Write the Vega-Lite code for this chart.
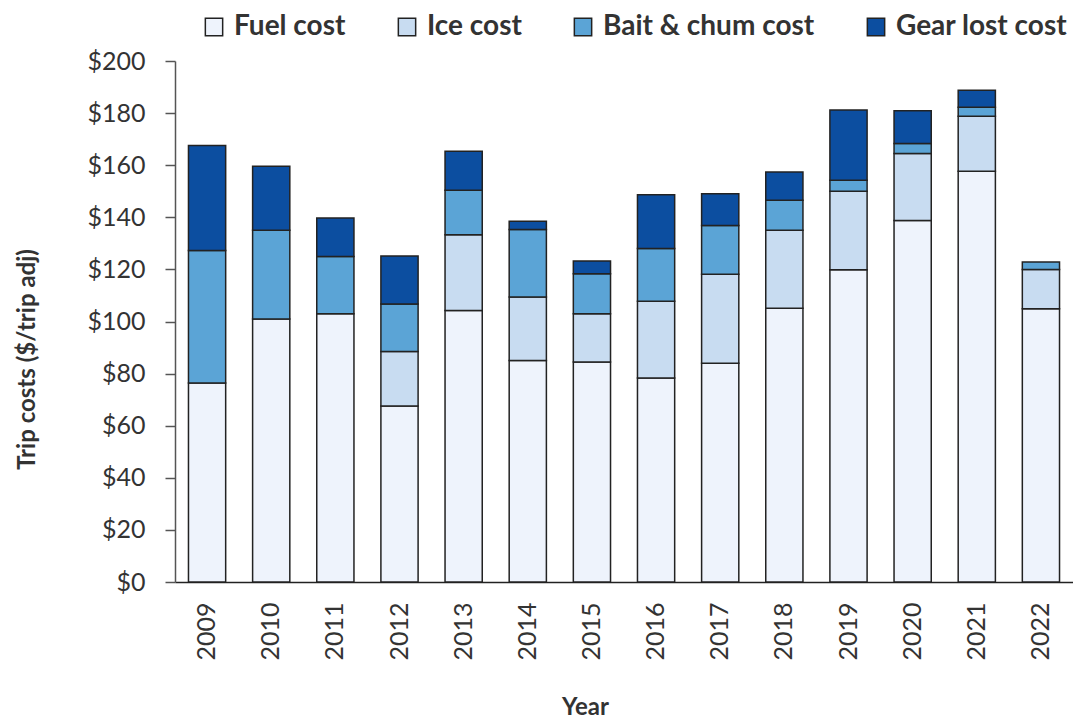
{
  "$schema": "https://vega.github.io/schema/vega-lite/v6.json",
  "width": 898,
  "height": 521,
  "autosize": {"type": "none"},
  "padding": {"left": 175, "top": 61, "right": 0, "bottom": 137},
  "background": "white",
  "config": {
    "view": {"stroke": null},
    "font": "Lato",
    "axis": {"labelFont": "Lato", "titleFont": "Lato", "labelColor": "#333333", "titleColor": "#333333"}
  },
  "datasets": {
    "costs": [
      {"Cost": "Fuel cost", "rank": 1},
      {"Cost": "Ice cost", "rank": 2},
      {"Cost": "Bait & chum cost", "rank": 3},
      {"Cost": "Gear lost cost", "rank": 4}
    ]
  },
  "data": {
    "values": [
      {"Year": "2009", "Cost": "Fuel cost", "Value": 76.4},
      {"Year": "2009", "Cost": "Bait & chum cost", "Value": 50.9},
      {"Year": "2009", "Cost": "Gear lost cost", "Value": 40.3},
      {"Year": "2010", "Cost": "Fuel cost", "Value": 101.0},
      {"Year": "2010", "Cost": "Bait & chum cost", "Value": 34.0},
      {"Year": "2010", "Cost": "Gear lost cost", "Value": 24.6},
      {"Year": "2011", "Cost": "Fuel cost", "Value": 103.0},
      {"Year": "2011", "Cost": "Bait & chum cost", "Value": 22.0},
      {"Year": "2011", "Cost": "Gear lost cost", "Value": 14.7},
      {"Year": "2012", "Cost": "Fuel cost", "Value": 67.6},
      {"Year": "2012", "Cost": "Ice cost", "Value": 20.9},
      {"Year": "2012", "Cost": "Bait & chum cost", "Value": 18.2},
      {"Year": "2012", "Cost": "Gear lost cost", "Value": 18.4},
      {"Year": "2013", "Cost": "Fuel cost", "Value": 104.2},
      {"Year": "2013", "Cost": "Ice cost", "Value": 29.1},
      {"Year": "2013", "Cost": "Bait & chum cost", "Value": 17.1},
      {"Year": "2013", "Cost": "Gear lost cost", "Value": 15.0},
      {"Year": "2014", "Cost": "Fuel cost", "Value": 85.0},
      {"Year": "2014", "Cost": "Ice cost", "Value": 24.4},
      {"Year": "2014", "Cost": "Bait & chum cost", "Value": 25.9},
      {"Year": "2014", "Cost": "Gear lost cost", "Value": 3.2},
      {"Year": "2015", "Cost": "Fuel cost", "Value": 84.5},
      {"Year": "2015", "Cost": "Ice cost", "Value": 18.5},
      {"Year": "2015", "Cost": "Bait & chum cost", "Value": 15.3},
      {"Year": "2015", "Cost": "Gear lost cost", "Value": 4.9},
      {"Year": "2016", "Cost": "Fuel cost", "Value": 78.3},
      {"Year": "2016", "Cost": "Ice cost", "Value": 29.5},
      {"Year": "2016", "Cost": "Bait & chum cost", "Value": 20.2},
      {"Year": "2016", "Cost": "Gear lost cost", "Value": 20.7},
      {"Year": "2017", "Cost": "Fuel cost", "Value": 84.0},
      {"Year": "2017", "Cost": "Ice cost", "Value": 34.1},
      {"Year": "2017", "Cost": "Bait & chum cost", "Value": 18.8},
      {"Year": "2017", "Cost": "Gear lost cost", "Value": 12.1},
      {"Year": "2018", "Cost": "Fuel cost", "Value": 105.1},
      {"Year": "2018", "Cost": "Ice cost", "Value": 29.9},
      {"Year": "2018", "Cost": "Bait & chum cost", "Value": 11.5},
      {"Year": "2018", "Cost": "Gear lost cost", "Value": 10.9},
      {"Year": "2019", "Cost": "Fuel cost", "Value": 119.9},
      {"Year": "2019", "Cost": "Ice cost", "Value": 30.1},
      {"Year": "2019", "Cost": "Bait & chum cost", "Value": 4.2},
      {"Year": "2019", "Cost": "Gear lost cost", "Value": 27.0},
      {"Year": "2020", "Cost": "Fuel cost", "Value": 138.8},
      {"Year": "2020", "Cost": "Ice cost", "Value": 25.7},
      {"Year": "2020", "Cost": "Bait & chum cost", "Value": 3.8},
      {"Year": "2020", "Cost": "Gear lost cost", "Value": 12.6},
      {"Year": "2021", "Cost": "Fuel cost", "Value": 157.7},
      {"Year": "2021", "Cost": "Ice cost", "Value": 21.1},
      {"Year": "2021", "Cost": "Bait & chum cost", "Value": 3.4},
      {"Year": "2021", "Cost": "Gear lost cost", "Value": 6.6},
      {"Year": "2022", "Cost": "Fuel cost", "Value": 104.9},
      {"Year": "2022", "Cost": "Ice cost", "Value": 15.1},
      {"Year": "2022", "Cost": "Bait & chum cost", "Value": 2.8}
    ]
  },
  "transform": [
    {"lookup": "Cost", "from": {"data": {"name": "costs"}, "key": "Cost", "fields": ["rank"]}}
  ],
  "mark": {"type": "bar", "stroke": "#222222", "strokeWidth": 1.5},
  "encoding": {
    "x": {
      "field": "Year",
      "type": "ordinal",
      "scale": {"paddingInner": 0.42, "paddingOuter": 0.21},
      "axis": {
        "title": "Year",
        "labelAngle": -90,
        "labelAlign": "right",
        "labelBaseline": "middle",
        "labelFontSize": 25,
        "labelPadding": 20,
        "ticks": false,
        "domainColor": "#222222",
        "domainWidth": 1.5,
        "titleFontSize": 24,
        "titleFontWeight": "bold",
        "titleX": 410,
        "titleY": 125,
        "titleAlign": "center",
        "titleBaseline": "middle"
      }
    },
    "y": {
      "field": "Value",
      "type": "quantitative",
      "stack": "zero",
      "scale": {"domain": [0, 200], "nice": false},
      "axis": {
        "title": "Trip costs ($/trip adj)",
        "values": [0, 20, 40, 60, 80, 100, 120, 140, 160, 180, 200],
        "format": "$,.0f",
        "grid": false,
        "labelFontSize": 25,
        "labelPadding": 20,
        "tickSize": 10,
        "tickColor": "#555555",
        "tickWidth": 1.5,
        "domainColor": "#555555",
        "domainWidth": 1.5,
        "titleFontSize": 24,
        "titleFontWeight": "bold",
        "titleAngle": -90,
        "titleX": -148,
        "titleY": 298,
        "titleAlign": "center",
        "titleBaseline": "middle"
      }
    },
    "color": {
      "field": "Cost",
      "type": "nominal",
      "scale": {
        "domain": ["Fuel cost", "Ice cost", "Bait & chum cost", "Gear lost cost"],
        "range": ["#eef3fc", "#c8dcf1", "#5ba4d6", "#0c4ea0"]
      },
      "legend": {
        "title": null,
        "orient": "none",
        "direction": "horizontal",
        "legendX": 25,
        "legendY": -48,
        "symbolType": "square",
        "symbolSize": 300,
        "symbolStrokeColor": "#222222",
        "symbolStrokeWidth": 1.5,
        "labelFont": "Lato",
        "labelFontSize": 28,
        "labelFontWeight": "bold",
        "labelColor": "#333333",
        "labelOffset": 6,
        "columnPadding": 47,
        "labelLimit": 400
      }
    },
    "order": {"field": "rank", "type": "quantitative", "sort": "ascending"}
  }
}
